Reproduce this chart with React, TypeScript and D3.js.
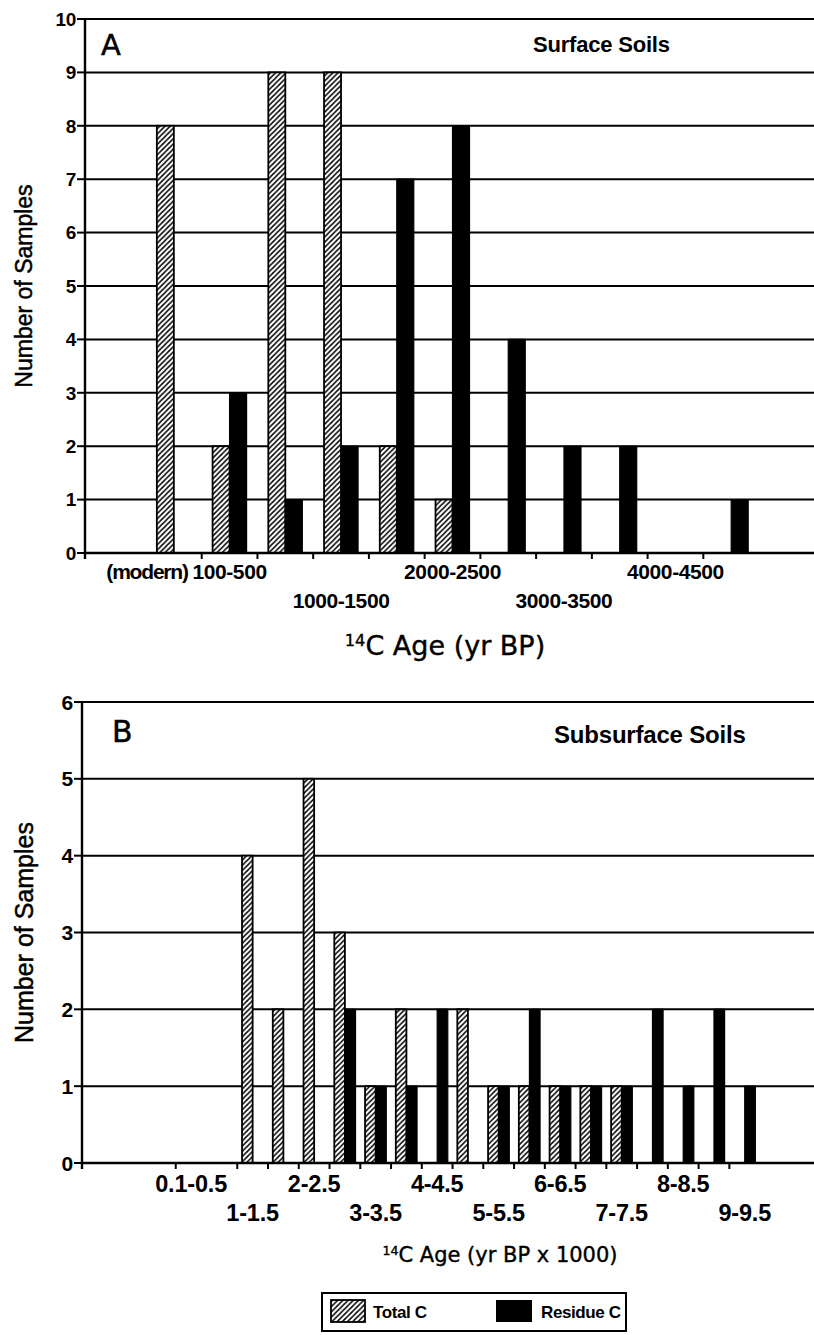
import React, { useEffect, useRef } from 'react';
import * as d3 from 'd3';

// Panel A: surface soils, 14C age bins in yr BP
const surfaceAges = ['modern', '100-500', '500-1000', '1000-1500', '1500-2000', '2000-2500', '2500-3000', '3000-3500', '3500-4000', '4000-4500', '4500-5000'];
const surfaceTotal = [8, 2, 9, 9, 2, 1, 0, 0, 0, 0, 0];
const surfaceResidue = [0, 3, 1, 2, 7, 8, 4, 2, 2, 0, 1];
const surfaceLabelsUpper = ['100-500', '2000-2500', '4000-4500'];
const surfaceLabelsLower = ['1000-1500', '3000-3500'];
const surfaceTicks = surfaceAges.slice(1);
const surfaceYTicks = [0, 1, 2, 3, 4, 5, 6, 7, 8, 9, 10];

// Panel B: subsurface soils, yr BP x 1000
const subsurfaceAges = ['0.1-0.5', '0.5-1', '1-1.5', '1.5-2', '2-2.5', '2.5-3', '3-3.5', '3.5-4', '4-4.5', '4.5-5', '5-5.5', '5.5-6', '6-6.5', '6.5-7', '7-7.5', '7.5-8', '8-8.5', '8.5-9', '9-9.5'];
const subsurfaceTotal = [0, 0, 4, 2, 5, 3, 1, 2, 0, 2, 1, 1, 1, 1, 1, 0, 0, 0, 0];
const subsurfaceResidue = [0, 0, 0, 0, 0, 2, 1, 1, 2, 0, 1, 2, 1, 1, 1, 2, 1, 2, 1];
const subsurfaceLabelsUpper = ['0.1-0.5', '2-2.5', '4-4.5', '6-6.5', '8-8.5'];
const subsurfaceLabelsLower = ['1-1.5', '3-3.5', '5-5.5', '7-7.5', '9-9.5'];
const subsurfaceTicks = subsurfaceAges.filter(a => a !== '0.5-1');
const subsurfaceYTicks = [0, 1, 2, 3, 4, 5, 6];

const W = 814;
const H = 1335;
const HELV = '"Liberation Sans", Arial, Helvetica, sans-serif';
const GEO = '"DejaVu Sans", Verdana, sans-serif';

interface PanelCfg {
  ages: string[];
  total: number[];
  residue: number[];
  upper: string[];
  lower: string[];
  ticks: string[];
  yTicks: number[];
  left: number;
  top: number;
  bottom: number;
  padOuter: number;
  align: number;
  barFrac: number;
  yFont: number;
  xFont: number;
  xSpacing: number;
  rowY: [number, number];
  letter: string;
  letterPos: [number, number];
  letterSize: number;
  name: string;
  namePos: [number, number];
  nameSize: number;
  yTitleX: number;
  yTitleSize: number;
  xTitle: string;
  xTitlePos: [number, number];
  xTitleSize: number;
}

function drawPanel(svg: d3.Selection<SVGSVGElement, unknown, null, undefined>, c: PanelCfg) {
  const g = svg.append('g');
  const x = d3.scaleBand<string>().domain(c.ages).range([c.left, W])
    .paddingInner(0).paddingOuter(c.padOuter).align(c.align);
  const yMax = d3.max(c.yTicks) ?? 1;
  const y = d3.scaleLinear().domain([0, yMax]).range([c.bottom, c.top]);
  const bw = x.bandwidth();
  const barW = bw * c.barFrac;

  // gridlines (incl. top frame line)
  g.selectAll('line.grid').data(c.yTicks.filter(v => v > 0)).enter().append('line')
    .attr('x1', c.left).attr('x2', W)
    .attr('y1', d => y(d)).attr('y2', d => y(d))
    .attr('stroke', '#000').attr('stroke-width', 2);

  const rows = c.ages.map((a, i) => ({ age: a, total: c.total[i], residue: c.residue[i] }));

  g.selectAll('rect.total').data(rows.filter(r => r.total > 0)).enter().append('rect')
    .attr('x', d => (x(d.age) ?? 0) + bw / 2 - barW)
    .attr('y', d => y(d.total))
    .attr('width', barW)
    .attr('height', d => y(0) - y(d.total))
    .attr('fill', 'url(#hatch)')
    .attr('stroke', '#000').attr('stroke-width', 1.8);

  g.selectAll('rect.residue').data(rows.filter(r => r.residue > 0)).enter().append('rect')
    .attr('x', d => (x(d.age) ?? 0) + bw / 2)
    .attr('y', d => y(d.residue))
    .attr('width', barW)
    .attr('height', d => y(0) - y(d.residue))
    .attr('fill', '#000')
    .attr('stroke', '#000').attr('stroke-width', 1.2);

  // axes
  g.append('line').attr('x1', c.left).attr('x2', W).attr('y1', y(0)).attr('y2', y(0))
    .attr('stroke', '#000').attr('stroke-width', 2.4);
  g.append('line').attr('x1', c.left).attr('x2', c.left).attr('y1', y(yMax)).attr('y2', y(0) + 6)
    .attr('stroke', '#000').attr('stroke-width', 2.4);

  g.selectAll('line.ytick').data(c.yTicks).enter().append('line')
    .attr('x1', c.left - 8).attr('x2', c.left)
    .attr('y1', d => y(d)).attr('y2', d => y(d))
    .attr('stroke', '#000').attr('stroke-width', 2);
  g.selectAll('text.ylab').data(c.yTicks).enter().append('text')
    .attr('x', c.left - 9).attr('y', d => y(d)).attr('dy', '0.36em')
    .attr('text-anchor', 'end')
    .attr('font-family', HELV).attr('font-weight', 700).attr('font-size', c.yFont)
    .attr('letter-spacing', -0.3)
    .text(d => d);

  g.selectAll('line.xtick').data(c.ticks).enter().append('line')
    .attr('x1', d => x(d) ?? 0).attr('x2', d => x(d) ?? 0)
    .attr('y1', y(0)).attr('y2', y(0) + 6)
    .attr('stroke', '#000').attr('stroke-width', 2);

  const lab = (list: string[], yy: number) => g.selectAll(null).data(list).enter().append('text')
    .attr('x', d => (x(d) ?? 0) + bw / 2).attr('y', yy)
    .attr('text-anchor', 'middle')
    .attr('font-family', HELV).attr('font-weight', 700).attr('font-size', c.xFont)
    .attr('letter-spacing', c.xSpacing)
    .text(d => d);
  lab(c.upper, c.rowY[0]);
  lab(c.lower, c.rowY[1]);

  g.append('text').attr('x', c.letterPos[0]).attr('y', c.letterPos[1])
    .attr('font-family', GEO).attr('font-size', c.letterSize)
    .attr('stroke', '#000').attr('stroke-width', 0.5).text(c.letter);
  g.append('text').attr('x', c.namePos[0]).attr('y', c.namePos[1])
    .attr('font-family', HELV).attr('font-weight', 700).attr('font-size', c.nameSize)
    .attr('letter-spacing', -0.2).text(c.name);

  g.append('text')
    .attr('transform', `translate(${c.yTitleX},${(y(0) + y(yMax)) / 2}) rotate(-90)`)
    .attr('text-anchor', 'middle')
    .attr('font-family', HELV).attr('font-size', c.yTitleSize)
    .attr('stroke', '#000').attr('stroke-width', 0.5)
    .text('Number of Samples');

  const t = g.append('text').attr('x', c.xTitlePos[0]).attr('y', c.xTitlePos[1])
    .attr('text-anchor', 'middle').attr('font-family', GEO).attr('font-size', c.xTitleSize)
    .attr('stroke', '#000').attr('stroke-width', 0.4);
  t.append('tspan').attr('font-size', c.xTitleSize * 0.6).attr('dy', -c.xTitleSize * 0.35).text('14');
  t.append('tspan').attr('dy', c.xTitleSize * 0.35).text(c.xTitle);

  return x;
}

export default function App() {
  const svgRef = useRef<SVGSVGElement | null>(null);

  useEffect(() => {
    if (!svgRef.current) return;
    const svg = d3.select(svgRef.current);
    svg.selectAll('*').remove();

    const defs = svg.append('defs');
    const s = 5.2;
    const p = defs.append('pattern').attr('id', 'hatch')
      .attr('patternUnits', 'userSpaceOnUse').attr('width', s).attr('height', s);
    p.append('rect').attr('width', s).attr('height', s).attr('fill', '#fff');
    p.append('path').attr('d', `M-1,1 l2,-2 M0,${s} l${s},${-s} M${s - 1},${s + 1} l2,-2`)
      .attr('stroke', '#000').attr('stroke-width', 1.5);

    const xA = drawPanel(svg, {
      ages: surfaceAges, total: surfaceTotal, residue: surfaceResidue,
      upper: surfaceLabelsUpper, lower: surfaceLabelsLower, ticks: surfaceTicks, yTicks: surfaceYTicks,
      left: 85, top: 19, bottom: 553, padOuter: 1.04, align: 0.526, barFrac: 0.305,
      yFont: 19, xFont: 21, xSpacing: -0.4, rowY: [579, 608],
      letter: 'A', letterPos: [101, 55], letterSize: 29,
      name: 'Surface Soils', namePos: [533, 52], nameSize: 22,
      yTitleX: 32, yTitleSize: 23,
      xTitle: 'C Age (yr BP)', xTitlePos: [445, 655], xTitleSize: 27,
    });
    // hand-placed "(modern)" label sits just left of the 100-500 label
    svg.append('text')
      .attr('x', (xA('modern') ?? 0) + xA.bandwidth() * 0.75).attr('y', 579)
      .attr('text-anchor', 'end')
      .attr('font-family', HELV).attr('font-weight', 700).attr('font-size', 21)
      .attr('letter-spacing', -1.2)
      .text('(modern)');

    drawPanel(svg, {
      ages: subsurfaceAges, total: subsurfaceTotal, residue: subsurfaceResidue,
      upper: subsurfaceLabelsUpper, lower: subsurfaceLabelsLower, ticks: subsurfaceTicks, yTicks: subsurfaceYTicks,
      left: 82, top: 702, bottom: 1163, padOuter: 2.4, align: 0.635, barFrac: 0.345,
      yFont: 21, xFont: 23.5, xSpacing: -0.2, rowY: [1192, 1221],
      letter: 'B', letterPos: [112, 742], letterSize: 30,
      name: 'Subsurface Soils', namePos: [554, 743], nameSize: 24,
      yTitleX: 33, yTitleSize: 25,
      xTitle: 'C Age (yr BP x 1000)', xTitlePos: [500, 1262], xTitleSize: 21,
    });

    // legend
    const lg = svg.append('g');
    lg.append('rect').attr('x', 322).attr('y', 1293).attr('width', 304).attr('height', 38)
      .attr('fill', '#fff').attr('stroke', '#000').attr('stroke-width', 2);
    lg.append('rect').attr('x', 331).attr('y', 1300).attr('width', 34).attr('height', 22)
      .attr('fill', 'url(#hatch)').attr('stroke', '#000').attr('stroke-width', 1.8);
    lg.append('text').attr('x', 373).attr('y', 1318)
      .attr('font-family', HELV).attr('font-weight', 700).attr('font-size', 17).attr('letter-spacing', -0.4)
      .text('Total C');
    lg.append('rect').attr('x', 496).attr('y', 1300).attr('width', 36).attr('height', 22).attr('fill', '#000');
    lg.append('text').attr('x', 541).attr('y', 1318)
      .attr('font-family', HELV).attr('font-weight', 700).attr('font-size', 17).attr('letter-spacing', -0.4)
      .text('Residue C');
  }, []);

  return (
    <div>
      <style>{'body{margin:0;background:#fff}'}</style>
      <svg ref={svgRef} width={W} height={H} style={{ display: 'block' }} />
    </div>
  );
}
